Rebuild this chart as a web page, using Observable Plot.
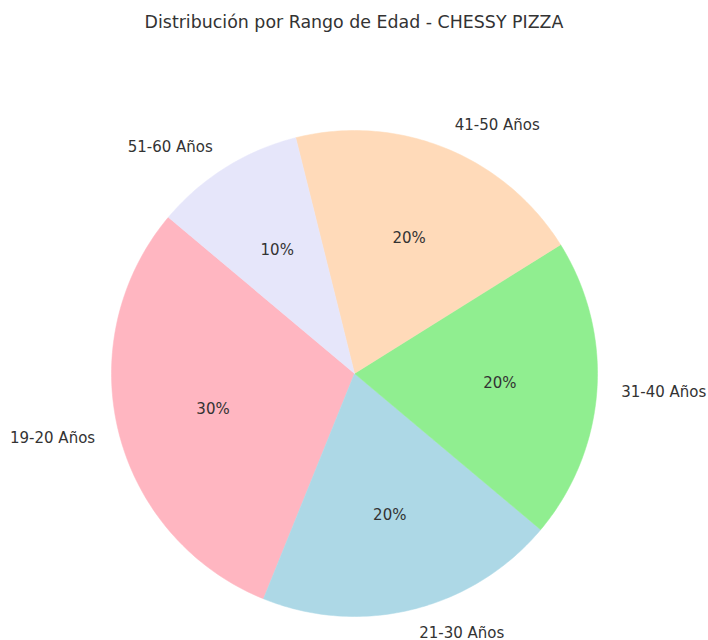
<!DOCTYPE html>
<html>
<head>
<meta charset="utf-8">
<script src="https://cdn.jsdelivr.net/npm/d3@7"></script>
<script src="https://cdn.jsdelivr.net/npm/@observablehq/plot@0.6"></script>
<style>
  body { margin: 0; background: #fff; font-family: "DejaVu Sans", sans-serif; }
  #title { height: 45px; line-height: 44px; text-align: center; font-size: 17.4px; color: #333; }
</style>
</head>
<body>
<div id="title">Distribución por Rango de Edad - CHESSY PIZZA</div>
<div id="chart"></div>
<script>
const labels = ["19-20 Años", "21-30 Años", "31-40 Años", "41-50 Años", "51-60 Años"];
const values = [30, 20, 20, 20, 10];
const colors = ["#FFB6C1", "#ADD8E6", "#90EE90", "#FFDAB9", "#E6E6FA"];
const startAngle = 140; // degrees, counterclockwise like matplotlib

const W = 708, H = 595, R = 243, CX = 354, CY = 328;
const total = d3.sum(values);

// slice angles (math convention, counterclockwise, degrees)
let acc = startAngle;
const slices = labels.map((label, i) => {
  const a0 = acc;
  const a1 = acc + values[i] / total * 360;
  acc = a1;
  return {label, value: values[i], a0, a1, mid: (a0 + a1) / 2};
});

const rad = d => d * Math.PI / 180;
const pts = [];
for (const s of slices) {
  pts.push({label: s.label, x: 0, y: 0});
  const n = Math.max(2, Math.ceil(s.a1 - s.a0));
  for (let k = 0; k <= n; k++) {
    const a = rad(s.a0 + (s.a1 - s.a0) * k / n);
    pts.push({label: s.label, x: Math.cos(a), y: Math.sin(a)});
  }
  pts.push({label: s.label, x: 0, y: 0});
}

const labelPts = slices.map(s => ({
  label: s.label,
  x: 1.1 * Math.cos(rad(s.mid)),
  y: 1.1 * Math.sin(rad(s.mid))
}));
const pctPts = slices.map(s => ({
  text: Math.round(s.value / total * 100) + "%",
  x: 0.6 * Math.cos(rad(s.mid)),
  y: 0.6 * Math.sin(rad(s.mid))
}));

const chart = Plot.plot({
  width: W,
  height: H,
  margin: 0,
  style: {fontFamily: "DejaVu Sans, sans-serif", background: "#fff"},
  x: {domain: [-CX / R, (W - CX) / R], range: [0, W], axis: null},
  y: {domain: [-(H - CY) / R, CY / R], range: [H, 0], axis: null},
  color: {domain: labels, range: colors},
  marks: [
    Plot.line(pts, {x: "x", y: "y", z: "label", fill: "label", stroke: "label", strokeWidth: 0.5, curve: "linear"}),
    Plot.text(labelPts.filter(d => d.x > 0), {x: "x", y: "y", text: "label", textAnchor: "start", fontSize: 15, fill: "#333"}),
    Plot.text(labelPts.filter(d => d.x <= 0), {x: "x", y: "y", text: "label", textAnchor: "end", fontSize: 15, fill: "#333"}),
    Plot.text(pctPts, {x: "x", y: "y", text: "text", fontSize: 15, fill: "#333"})
  ]
});
document.getElementById("chart").appendChild(chart);
</script>
</body>
</html>
